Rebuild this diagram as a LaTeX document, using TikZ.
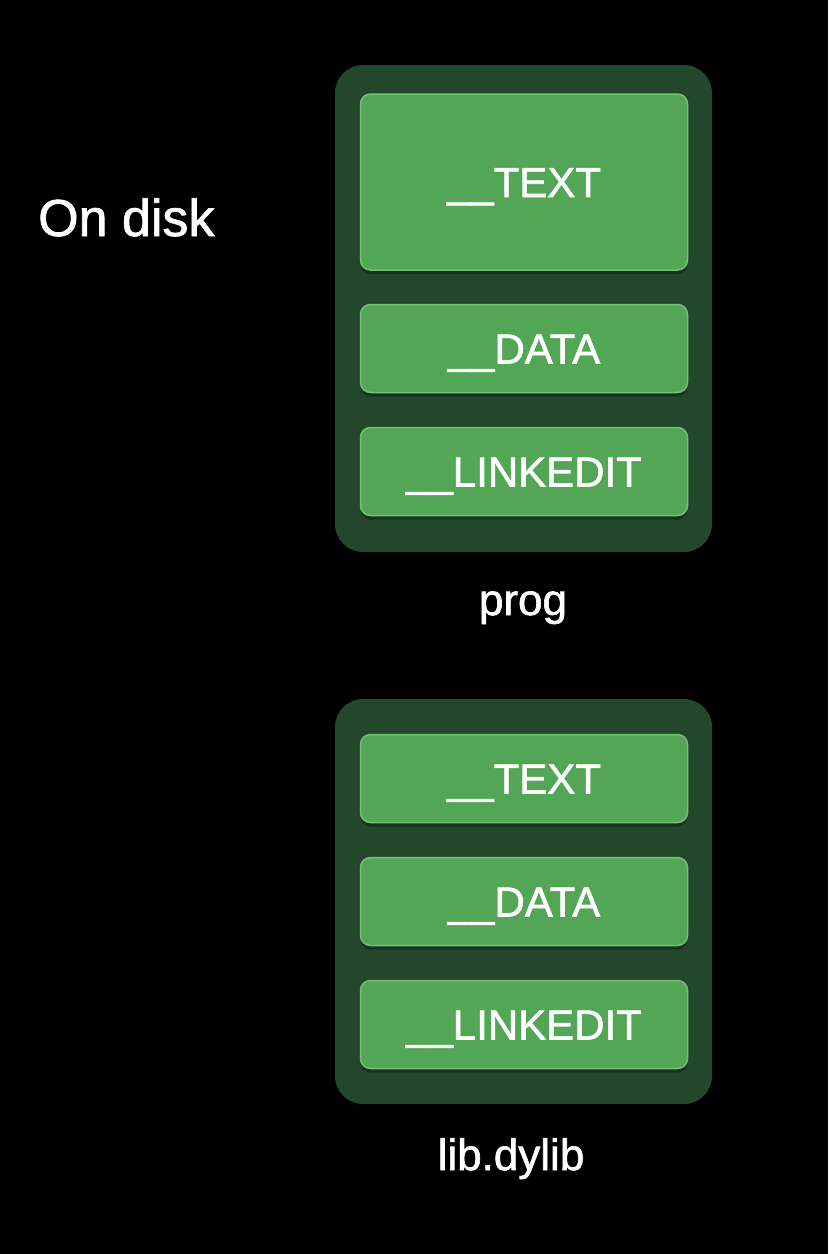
\documentclass[tikz,border=0pt]{standalone}
\usepackage{fontspec}
\setmainfont{Liberation Sans}
\newfontfamily\medfont{Liberation Sans}[FakeBold=1.4]
\usetikzlibrary{positioning,shadows}
\definecolor{segfill}{HTML}{52A655}
\definecolor{segline}{HTML}{74C076}
\definecolor{filebg}{HTML}{23472A}

\begin{document}
\begin{tikzpicture}[x=1pt,y=-1pt,
  file/.style={fill=filebg,rounded corners=28pt,minimum width=377pt,inner sep=0pt},
  seg/.style={fill=segfill,draw=segline,line width=1.5pt,rounded corners=10pt,
    minimum width=327pt,minimum height=88pt,inner sep=0pt,text=white,
    font=\medfont\fontsize{42}{50}\selectfont,text height=30pt,text depth=0pt,
    drop shadow={fill=black,opacity=0.3,shadow xshift=0pt,shadow yshift=-4pt}},
  lbl/.style={text=white,inner sep=0pt,font=\medfont\fontsize{44}{52}\selectfont}]
 \fill[black] (0,0) rectangle (828,1254);
 \useasboundingbox (0,0) rectangle (828,1254);
 \node[text=white,inner sep=0pt,anchor=base west,font=\medfont\fontsize{52}{60}\selectfont] (ondisk) at (38,236) {On disk};
 % prog
 \node[file,minimum height=487pt] (prog) at (523.5,308.5) {};
 \node[seg,minimum height=176pt] (progtext) at (524,182) {\_\_TEXT};
 \node[seg] (progdata) at (524,348.5) {\_\_DATA};
 \node[seg] (proglink) at (524,471.5) {\_\_LINKEDIT};
 \node[lbl,anchor=base] (progname) at (523,615) {prog};
 % lib.dylib
 \node[file,minimum height=405pt] (lib) at (523.5,901.5) {};
 \node[seg] (libtext) at (524,778.5) {\_\_TEXT};
 \node[seg] (libdata) at (524,901.5) {\_\_DATA};
 \node[seg] (liblink) at (524,1024.5) {\_\_LINKEDIT};
 \node[lbl,anchor=base] (libname) at (511,1170) {lib.dylib};
\end{tikzpicture}
\end{document}
